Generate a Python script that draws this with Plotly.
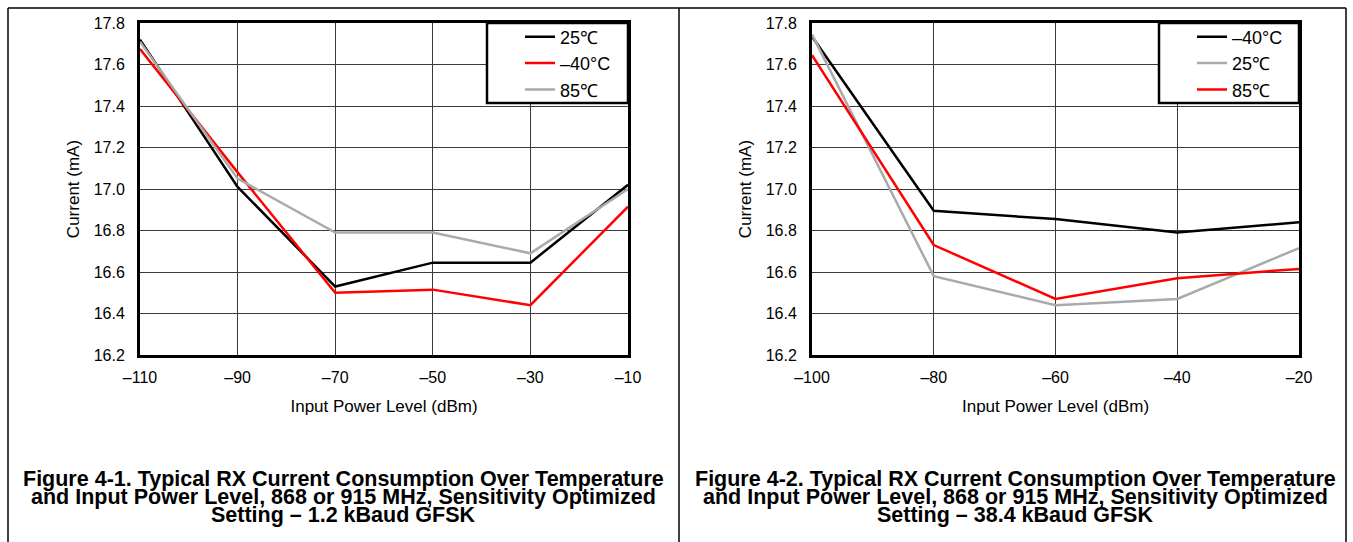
import plotly.graph_objects as go

W, H = 1353, 542

# ---------- data ----------
x1 = [-110, -90, -70, -50, -30, -10]
left_25 = [17.72, 17.01, 16.53, 16.645, 16.645, 17.02]
left_m40 = [17.675, 17.08, 16.50, 16.515, 16.44, 16.915]
left_85 = [17.71, 17.05, 16.79, 16.79, 16.69, 17.00]

x2 = [-100, -80, -60, -40, -20]
right_m40 = [17.735, 16.895, 16.855, 16.79, 16.84]
right_25 = [17.745, 16.58, 16.44, 16.47, 16.715]
right_85 = [17.645, 16.73, 16.47, 16.57, 16.615]

x1_ticks = [-110, -90, -70, -50, -30, -10]
x2_ticks = [-100, -80, -60, -40, -20]
y_ticks = [16.2, 16.4, 16.6, 16.8, 17.0, 17.2, 17.4, 17.6, 17.8]

caption1 = ["Figure 4-1. Typical RX Current Consumption Over Temperature",
            "and Input Power Level, 868 or 915 MHz, Sensitivity Optimized",
            "Setting – 1.2 kBaud GFSK"]
caption2 = ["Figure 4-2. Typical RX Current Consumption Over Temperature",
            "and Input Power Level, 868 or 915 MHz, Sensitivity Optimized",
            "Setting – 38.4 kBaud GFSK"]

BLACK = "#000000"
RED = "#ff0000"
GRAY = "#aaaaaa"
FONT = "Liberation Sans, Arial, sans-serif"

def tick_text(v):
    return ("–" + str(abs(v))) if v < 0 else str(v)

fig = go.Figure()
lw = 2.5
fig.add_trace(go.Scatter(x=x1, y=left_25, mode="lines", name="25℃",
                         line=dict(color=BLACK, width=lw), xaxis="x", yaxis="y", legend="legend"))
fig.add_trace(go.Scatter(x=x1, y=left_m40, mode="lines", name="–40°C",
                         line=dict(color=RED, width=lw), xaxis="x", yaxis="y", legend="legend"))
fig.add_trace(go.Scatter(x=x1, y=left_85, mode="lines", name="85℃",
                         line=dict(color=GRAY, width=lw), xaxis="x", yaxis="y", legend="legend"))

fig.add_trace(go.Scatter(x=x2, y=right_m40, mode="lines", name="–40°C",
                         line=dict(color=BLACK, width=lw), xaxis="x2", yaxis="y2", legend="legend2"))
fig.add_trace(go.Scatter(x=x2, y=right_25, mode="lines", name="25℃",
                         line=dict(color=GRAY, width=lw), xaxis="x2", yaxis="y2", legend="legend2"))
fig.add_trace(go.Scatter(x=x2, y=right_85, mode="lines", name="85℃",
                         line=dict(color=RED, width=lw), xaxis="x2", yaxis="y2", legend="legend2"))

def px_x(p):
    return p / W

def px_y(p):
    return 1 - p / H

xd1 = [px_x(140), px_x(628)]
xd2 = [px_x(812), px_x(1299)]
yd = [px_y(355), px_y(23)]

axis_common = dict(showgrid=True, gridcolor="#3a3a3a", gridwidth=1,
                   showline=True, linecolor=BLACK, linewidth=3, mirror=True,
                   ticks="", zeroline=False, automargin=False,
                   tickfont=dict(family=FONT, size=16, color=BLACK))

legend_common = dict(xanchor="left", yanchor="top",
                     bgcolor="rgba(0,0,0,0)", borderwidth=0,
                     font=dict(family=FONT, size=18, color=BLACK),
                     tracegroupgap=0, itemwidth=30)

fig.update_layout(
    width=W, height=H, autosize=False,
    margin=dict(l=0, r=0, t=0, b=0, pad=0, autoexpand=False),
    paper_bgcolor="white", plot_bgcolor="white",
    font=dict(family=FONT, color=BLACK),
    xaxis=dict(domain=xd1, range=[-110, -10], tickvals=x1_ticks,
               ticktext=[tick_text(v) for v in x1_ticks], anchor="y",
               title=dict(text="Input Power Level (dBm)", font=dict(family=FONT, size=17), standoff=15),
               ticklabelstandoff=6, **axis_common),
    yaxis=dict(domain=yd, range=[16.2, 17.8], tickvals=y_ticks,
               ticktext=[f"{v:.1f}" for v in y_ticks], anchor="x",
               title=dict(text="Current (mA)", font=dict(family=FONT, size=17), standoff=10),
               ticklabelstandoff=9, **axis_common),
    xaxis2=dict(domain=xd2, range=[-100, -20], tickvals=x2_ticks,
                ticktext=[tick_text(v) for v in x2_ticks], anchor="y2",
                title=dict(text="Input Power Level (dBm)", font=dict(family=FONT, size=17), standoff=15),
                ticklabelstandoff=6, **axis_common),
    yaxis2=dict(domain=yd, range=[16.2, 17.8], tickvals=y_ticks,
                ticktext=[f"{v:.1f}" for v in y_ticks], anchor="x2",
                title=dict(text="Current (mA)", font=dict(family=FONT, size=17), standoff=10),
                ticklabelstandoff=9, **axis_common),
    legend=dict(x=px_x(520), y=px_y(18.5), **legend_common),
    legend2=dict(x=px_x(1192), y=px_y(18.5), **legend_common),
    showlegend=True,
)

# legend frames (white boxes with thick black border, drawn over the lines)
for bx0, bx1 in [(487, 628), (1159, 1299)]:
    fig.add_shape(type="rect", xref="paper", yref="paper",
                  x0=px_x(bx0), x1=px_x(bx1), y0=px_y(103), y1=px_y(23),
                  fillcolor="white", line=dict(color=BLACK, width=2.5), layer="above")

# outer frame lines
frame = dict(type="line", xref="paper", yref="paper", line=dict(color=BLACK, width=1.5))
fig.add_shape(x0=px_x(8), x1=px_x(1346), y0=px_y(8), y1=px_y(8), **frame)
fig.add_shape(x0=px_x(8), x1=px_x(8), y0=px_y(8), y1=0, **frame)
fig.add_shape(x0=px_x(679), x1=px_x(679), y0=px_y(8), y1=0, **frame)
fig.add_shape(x0=px_x(1346), x1=px_x(1346), y0=px_y(8), y1=0, **frame)

# captions
line_y = [479, 497, 515]
for cx, cap in [(343, caption1), (1015, caption2)]:
    for ly, txt in zip(line_y, cap):
        fig.add_annotation(x=px_x(cx), y=px_y(ly), xref="paper", yref="paper",
                           text="<b>" + txt + "</b>", showarrow=False,
                           xanchor="center", yanchor="middle",
                           font=dict(family=FONT, size=21.5, color=BLACK))

fig.write_html("out.html", config={"displayModeBar": False},
               post_script="document.body.style.margin='0';document.body.style.overflow='hidden';")
